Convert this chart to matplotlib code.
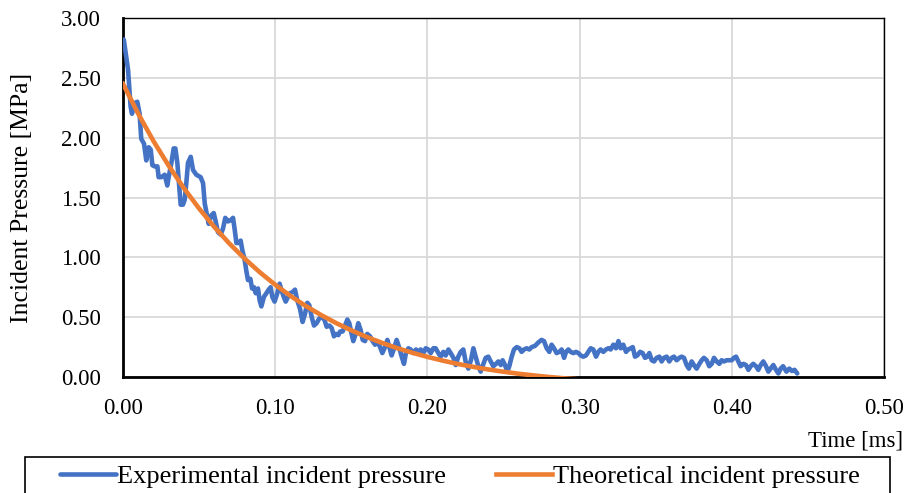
import matplotlib
matplotlib.use("Agg")
import matplotlib.pyplot as plt
from matplotlib.ticker import FormatStrFormatter
from matplotlib.patches import Rectangle

# ---------------- data ----------------
exp_time = [
    0.0005, 0.0033, 0.0050, 0.0059, 0.0077, 0.0094, 0.0109, 0.0120, 0.0138, 0.0153,
    0.0169, 0.0182, 0.0193, 0.0208, 0.0226, 0.0234, 0.0252, 0.0274, 0.0291, 0.0300,
    0.0318, 0.0333, 0.0344, 0.0357, 0.0368, 0.0379, 0.0394, 0.0405, 0.0416, 0.0427,
    0.0445, 0.0460, 0.0482, 0.0510, 0.0526, 0.0537, 0.0548, 0.0563, 0.0580, 0.0596,
    0.0609, 0.0624, 0.0642, 0.0657, 0.0672, 0.0690, 0.0707, 0.0723, 0.0734, 0.0745,
    0.0760, 0.0773, 0.0784, 0.0799, 0.0810, 0.0821, 0.0837, 0.0848, 0.0861, 0.0872,
    0.0887, 0.0898, 0.0909, 0.0926, 0.0942, 0.0957, 0.0970, 0.0981, 0.0996, 0.1014,
    0.1029, 0.1040, 0.1056, 0.1069, 0.1084, 0.1097, 0.1115, 0.1130, 0.1145, 0.1163,
    0.1180, 0.1196, 0.1211, 0.1224, 0.1240, 0.1255, 0.1272, 0.1290, 0.1305, 0.1323,
    0.1338, 0.1356, 0.1371, 0.1386, 0.1399, 0.1415, 0.1426, 0.1443, 0.1459, 0.1474,
    0.1487, 0.1502, 0.1513, 0.1529, 0.1546, 0.1562, 0.1575, 0.1590, 0.1605, 0.1623,
    0.1640, 0.1656, 0.1671, 0.1689, 0.1704, 0.1721, 0.1737, 0.1750, 0.1765, 0.1781,
    0.1798, 0.1816, 0.1831, 0.1846, 0.1859, 0.1875, 0.1890, 0.1907, 0.1925, 0.1940,
    0.1956, 0.1973, 0.1989, 0.2006, 0.2022, 0.2039, 0.2054, 0.2072, 0.2087, 0.2105,
    0.2120, 0.2138, 0.2153, 0.2171, 0.2186, 0.2203, 0.2219, 0.2236, 0.2251, 0.2269,
    0.2286, 0.2302, 0.2317, 0.2335, 0.2350, 0.2368, 0.2383, 0.2400, 0.2416, 0.2433,
    0.2451, 0.2466, 0.2482, 0.2494, 0.2510, 0.2525, 0.2538, 0.2554, 0.2569, 0.2587,
    0.2604, 0.2619, 0.2635, 0.2652, 0.2670, 0.2685, 0.2707, 0.2730, 0.2750, 0.2766,
    0.2784, 0.2801, 0.2816, 0.2832, 0.2849, 0.2867, 0.2882, 0.2898, 0.2911, 0.2926,
    0.2941, 0.2959, 0.2976, 0.2992, 0.3007, 0.3024, 0.3042, 0.3057, 0.3073, 0.3090,
    0.3108, 0.3123, 0.3138, 0.3156, 0.3173, 0.3189, 0.3204, 0.3222, 0.3239, 0.3255,
    0.3270, 0.3287, 0.3305, 0.3320, 0.3336, 0.3349, 0.3364, 0.3379, 0.3397, 0.3414,
    0.3430, 0.3445, 0.3458, 0.3474, 0.3489, 0.3506, 0.3524, 0.3539, 0.3554, 0.3572,
    0.3589, 0.3605, 0.3620, 0.3638, 0.3655, 0.3670, 0.3686, 0.3703, 0.3718, 0.3736,
    0.3751, 0.3769, 0.3787, 0.3802, 0.3817, 0.3835, 0.3852, 0.3868, 0.3883, 0.3901,
    0.3918, 0.3933, 0.3949, 0.3966, 0.3984, 0.3999, 0.4014, 0.4028, 0.4043, 0.4058,
    0.4076, 0.4093, 0.4109, 0.4124, 0.4141, 0.4159, 0.4174, 0.4190, 0.4207, 0.4225,
    0.4240, 0.4255, 0.4273, 0.4290, 0.4306, 0.4321, 0.4337, 0.4359, 0.4378, 0.4395,
    0.4412, 0.4430,
]
exp_pressure = [
    2.82, 2.57, 2.26, 2.20, 2.29, 2.30, 2.20, 1.99, 1.95, 1.81,
    1.92, 1.90, 1.77, 1.76, 1.76, 1.67, 1.67, 1.69, 1.60, 1.67,
    1.79, 1.91, 1.91, 1.79, 1.62, 1.44, 1.44, 1.48, 1.62, 1.79,
    1.84, 1.73, 1.69, 1.67, 1.62, 1.45, 1.38, 1.28, 1.35, 1.37,
    1.30, 1.21, 1.19, 1.24, 1.33, 1.30, 1.31, 1.33, 1.23, 1.12,
    1.12, 1.14, 1.06, 0.98, 0.89, 0.81, 0.82, 0.74, 0.75, 0.70,
    0.74, 0.64, 0.59, 0.67, 0.70, 0.73, 0.75, 0.67, 0.63, 0.70,
    0.78, 0.73, 0.67, 0.63, 0.67, 0.70, 0.71, 0.73, 0.64, 0.57,
    0.46, 0.53, 0.62, 0.60, 0.50, 0.43, 0.45, 0.49, 0.50, 0.48,
    0.42, 0.43, 0.41, 0.34, 0.36, 0.35, 0.38, 0.38, 0.43, 0.48,
    0.45, 0.36, 0.30, 0.36, 0.45, 0.39, 0.31, 0.30, 0.36, 0.34,
    0.30, 0.27, 0.30, 0.25, 0.20, 0.25, 0.31, 0.25, 0.18, 0.24,
    0.31, 0.24, 0.17, 0.11, 0.20, 0.24, 0.23, 0.20, 0.23, 0.21,
    0.23, 0.20, 0.24, 0.23, 0.20, 0.24, 0.24, 0.20, 0.17, 0.21,
    0.18, 0.23, 0.20, 0.16, 0.10, 0.17, 0.21, 0.23, 0.13, 0.07,
    0.14, 0.24, 0.17, 0.09, 0.045, 0.11, 0.16, 0.17, 0.13, 0.09,
    0.11, 0.13, 0.10, 0.14, 0.10, 0.045, 0.09, 0.17, 0.23, 0.25,
    0.24, 0.21, 0.23, 0.24, 0.23, 0.25, 0.26, 0.29, 0.31, 0.30,
    0.24, 0.21, 0.27, 0.24, 0.20, 0.21, 0.23, 0.16, 0.21, 0.23,
    0.21, 0.20, 0.21, 0.20, 0.18, 0.17, 0.18, 0.21, 0.24, 0.23,
    0.17, 0.21, 0.23, 0.21, 0.23, 0.24, 0.23, 0.27, 0.24, 0.30,
    0.24, 0.27, 0.21, 0.23, 0.24, 0.25, 0.17, 0.18, 0.21, 0.20,
    0.16, 0.17, 0.20, 0.14, 0.13, 0.16, 0.17, 0.13, 0.16, 0.17,
    0.13, 0.16, 0.17, 0.14, 0.16, 0.17, 0.16, 0.10, 0.07, 0.13,
    0.10, 0.07, 0.11, 0.14, 0.16, 0.14, 0.09, 0.11, 0.16, 0.13,
    0.11, 0.14, 0.13, 0.14, 0.14, 0.14, 0.16, 0.17, 0.13, 0.09,
    0.11, 0.10, 0.06, 0.09, 0.11, 0.09, 0.06, 0.10, 0.13, 0.09,
    0.045, 0.07, 0.10, 0.06, 0.03, 0.07, 0.09, 0.045, 0.07, 0.05,
    0.06, 0.03,
]

theo_time = [0.00, 0.01, 0.02, 0.03, 0.04, 0.05, 0.06, 0.07, 0.08, 0.09,
             0.10, 0.11, 0.12, 0.13, 0.14, 0.15, 0.16, 0.17, 0.18, 0.19,
             0.20, 0.21, 0.22, 0.23, 0.24, 0.25, 0.26, 0.27, 0.28, 0.29, 0.30]
theo_pressure = [2.450, 2.200, 1.972, 1.766, 1.578, 1.408, 1.254, 1.114, 0.988, 0.874,
                 0.771, 0.678, 0.594, 0.519, 0.451, 0.390, 0.335, 0.286, 0.242, 0.203,
                 0.168, 0.137, 0.109, 0.085, 0.063, 0.044, 0.027, 0.013, 0.000, -0.011, -0.020]

x_ticks = [0.0, 0.1, 0.2, 0.3, 0.4, 0.5]
y_ticks = [0.0, 0.5, 1.0, 1.5, 2.0, 2.5, 3.0]

# ---------------- figure ----------------
FONT = "Liberation Serif"
plt.rcParams["font.family"] = [FONT, "DejaVu Serif"]

W, H = 917, 493
fig = plt.figure(figsize=(W / 100, H / 100), dpi=100)
ax = fig.add_axes([123 / W, 1 - 377 / H, (884 - 123) / W, (377 - 18) / H])

ax.plot(exp_time, exp_pressure, color="#4472C4", lw=3.3, solid_joinstyle="round",
        solid_capstyle="round", label="Experimental incident pressure", zorder=3)
ax.plot(theo_time, theo_pressure, color="#ED7D31", lw=3.3, solid_joinstyle="round",
        label="Theoretical incident pressure", zorder=4)

ax.set_xlim(0, 0.5)
ax.set_ylim(0, 3.0)
ax.set_xticks(x_ticks)
ax.set_yticks(y_ticks)
ax.xaxis.set_major_formatter(FormatStrFormatter("%.2f"))
ax.yaxis.set_major_formatter(FormatStrFormatter("%.2f"))
ax.grid(True, color="#d9d9d9", lw=1.3)
ax.set_axisbelow(True)
ax.tick_params(axis="both", length=0, labelsize=16.5, colors="black")
ax.tick_params(axis="x", pad=15)
ax.tick_params(axis="y", pad=16)

for side in ["top", "right"]:
    ax.spines[side].set_color("black")
    ax.spines[side].set_linewidth(1.0)
for side in ["left", "bottom"]:
    ax.spines[side].set_color("black")
    ax.spines[side].set_linewidth(2.0)

fig.text(22 / W, 1 - 198 / H, "Incident Pressure [MPa]", rotation=90,
         ha="center", va="center", fontsize=18.5)
fig.text(903 / W, 1 - 441 / H, "Time [ms]", ha="right", va="center", fontsize=16.5)

# legend box (Excel-style, extending past bottom edge)
fig.patches.append(Rectangle((25 / W, -0.05), (890 - 25) / W, (1 - 457 / H) + 0.05,
                             transform=fig.transFigure, fill=False,
                             edgecolor="black", lw=1.2, zorder=1))
leg = fig.legend(loc="center", bbox_to_anchor=(460 / W, 1 - 476 / H),
                 ncol=2, fontsize=19, frameon=False,
                 handlelength=2.1, handletextpad=0.05, columnspacing=1.9,
                 borderpad=0, borderaxespad=0)

fig.savefig("out.png", dpi=100)
